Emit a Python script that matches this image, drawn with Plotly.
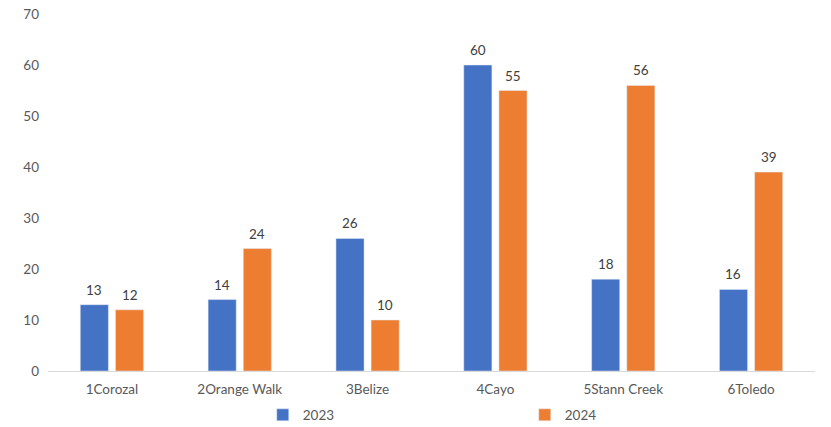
import plotly.graph_objects as go

categories = ["1Corozal", "2Orange Walk", "3Belize", "4Cayo", "5Stann Creek", "6Toledo"]
values_2023 = [13, 14, 26, 60, 18, 16]
values_2024 = [12, 24, 10, 55, 56, 39]

font_family = "Lato, 'Noto Sans', sans-serif"

fig = go.Figure()
fig.add_trace(go.Bar(x=categories, y=values_2023, name="2023", marker_color="#4472C4"))
fig.add_trace(go.Bar(x=categories, y=values_2024, name="2024", marker_color="#ED7D31"))

# data labels placed above bars
for vals, shift in ((values_2023, -17.6), (values_2024, 17.6)):
    for c, v in zip(categories, vals):
        fig.add_annotation(x=c, y=v, xref="x", yref="y", text=str(v), showarrow=False,
                           xshift=shift, yshift=5, yanchor="bottom",
                           font=dict(color="#404040", size=13.5, family=font_family))

fig.update_layout(
    width=831, height=427,
    margin=dict(l=48, r=16, t=14, b=56, autoexpand=False),
    paper_bgcolor="white", plot_bgcolor="white",
    barmode="group", bargap=0.45, bargroupgap=0.2,
    font=dict(family=font_family, size=13.5, color="#595959"),
    showlegend=True,
    legend=dict(orientation="h", x=0.28, xanchor="left",
                yref="container", y=0.028, yanchor="middle",
                entrywidth=217, entrywidthmode="pixels",
                font=dict(size=13.5, color="#595959", family=font_family)),
)
fig.update_xaxes(showline=True, linecolor="#D9D9D9", linewidth=1, ticks="",
                 ticklabelstandoff=6,
                 tickfont=dict(size=13.5, color="#595959"), showgrid=False, automargin=False)
fig.update_yaxes(range=[0, 70], dtick=10, showgrid=False, zeroline=False, showline=False,
                 ticks="", ticklabelstandoff=8, automargin=False,
                 tickfont=dict(size=13.5, color="#595959"))

fig.write_html("out.html")
